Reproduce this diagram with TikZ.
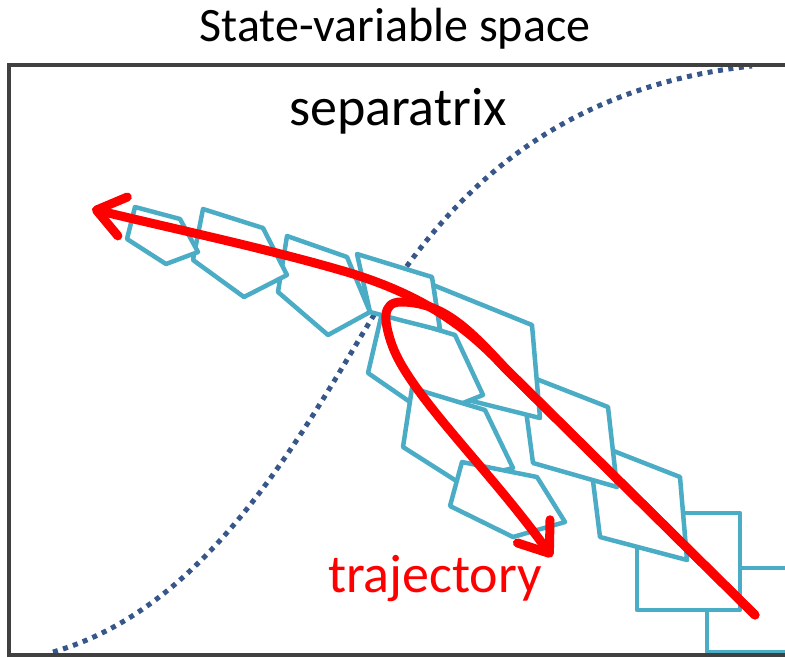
\documentclass[tikz,border=0pt]{standalone}
\usepackage{fontspec}
\setmainfont{Carlito}
\usetikzlibrary{arrows.meta}
\definecolor{cyanline}{RGB}{75,172,198}
\definecolor{sepblue}{RGB}{55,87,138}
\definecolor{framegray}{RGB}{64,64,64}
\definecolor{trajred}{RGB}{255,0,0}
\begin{document}
\begin{tikzpicture}[x=1pt,y=-1pt,
  cell/.style={draw=cyanline, fill=white, line width=4.5pt, line join=round},
  sepline/.style={draw=sepblue, line width=5pt, dash pattern=on 5pt off 5.5pt},
  traj/.style={draw=trajred, line width=9pt, line cap=round, line join=round,
    -{Straight Barb[length=27pt,width=40pt,line cap=round,line join=round]}},
  titletext/.style={font=\fontsize{48}{56}\selectfont, anchor=base, inner sep=0pt},
  bigtext/.style={font=\fontsize{54}{62}\selectfont, anchor=base, inner sep=0pt}]
\useasboundingbox (0,0) rectangle (785,657);
\clip (0,0) rectangle (785,657);
% separatrix
\coordinate (sepA) at (53,652);
\coordinate (sepM) at (363,333);
\coordinate (sepB) at (752,66);
\draw[sepline] (sepA) .. controls (200,610) and (290,455) .. (sepM)
  .. controls (429,223) and (530,90) .. (sepB);
% cells: upper branch, drawn from the latest in time
\draw[cell] (707,568) -- (820,568) -- (820,652) -- (707,652) -- cycle;
\draw[cell] (637,513) -- (740,513) -- (740,610) -- (637,610) -- cycle;
\draw[cell] (588,441) -- (680,477) -- (687,560) -- (600,537) -- cycle;
\draw[cell] (521,373) -- (608,407) -- (617,487) -- (533,463) -- cycle;
\draw[cell] (433,285) -- (532,325) -- (540,418) -- (468,400) -- (440,330) -- cycle;
% lower branch
\draw[cell] (382,313) -- (455,335) -- (483,395) -- (463,403) -- (410,402) -- (368,373) -- cycle;
\draw[cell] (412,388) -- (485,410) -- (513,468) -- (458,482) -- (403,447) -- cycle;
\draw[cell] (462,462) -- (537,477) -- (565,522) -- (513,537) -- (450,506) -- cycle;
% upper branch continued
\draw[cell] (357,254) -- (432,277) -- (440,330) -- (400,320) -- (370,312) -- cycle;
\draw[cell] (287,236) -- (347,257) -- (370,312) -- (328,335) -- (278,292) -- cycle;
\draw[cell] (203,209) -- (263,228) -- (287,275) -- (244,297) -- (193,260) -- cycle;
\draw[cell] (135,207) -- (180,219) -- (198,252) -- (166,264) -- (127,239) -- cycle;
% frame
\draw[framegray, line width=4.5pt] (9,65) rectangle (830,655);
% trajectories
\coordinate (start) at (755,615);
\coordinate (fork) at (505,368);
\coordinate (looptop) at (401,302);
\coordinate (loopside) at (392,345);
\coordinate (bend) at (340,270);
\coordinate (tipA) at (552,557);
\coordinate (tipB) at (92,209);
\draw[traj] (start) -- (fork) .. controls (470,330) and (443,302) .. (looptop)
  .. controls (381,302) and (384,322) .. (loopside)
  .. controls (410,395) and (490,470) .. (tipA);
\draw[traj] (start) -- (fork) .. controls (465,325) and (420,293) .. (bend)
  .. controls (260,247) and (170,228) .. (tipB);
% texts
\node[titletext] (title) at (395,41) {State-variable space};
\node[bigtext] (sep) at (398,125) {separatrix};
\node[bigtext, text=trajred] (trajlabel) at (435,592) {trajectory};
\end{tikzpicture}
\end{document}
